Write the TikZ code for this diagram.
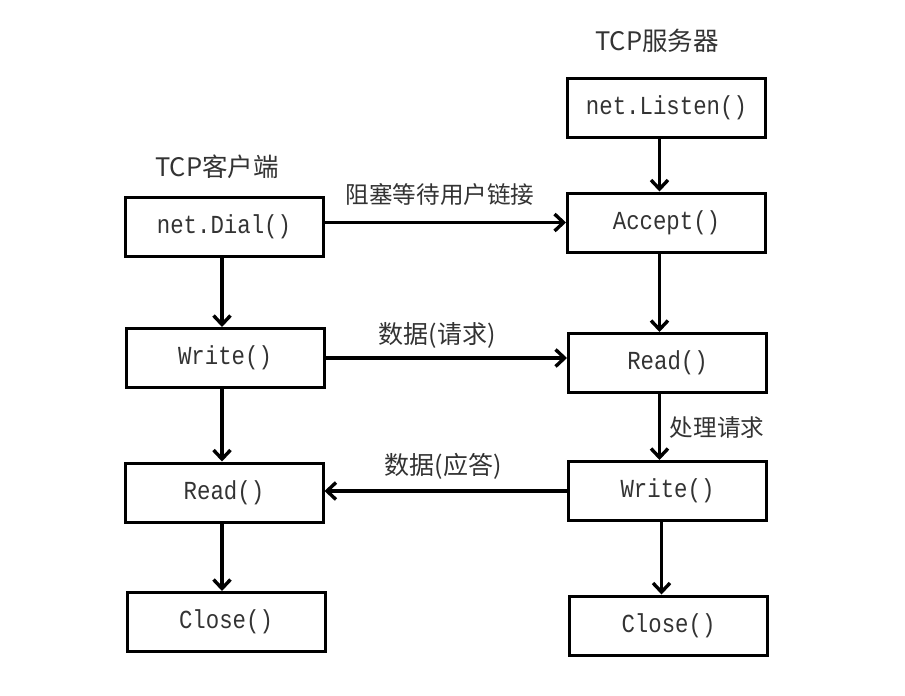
\documentclass[tikz,border=0pt]{standalone}
\usepackage{fontspec}
\newfontfamily\boxfont[FakeStretch=0.86]{Liberation Mono}
\newfontfamily\cjk{Noto Sans CJK SC}
\usetikzlibrary{arrows.meta}
\begin{document}
\begin{tikzpicture}[x=1pt,y=-1pt,
  fn/.style={draw=black,line width=3pt,minimum width=198pt,minimum height=59pt,inner sep=0pt,
    text=black!80,font=\boxfont\fontsize{26}{30}\selectfont},
  lbl/.style={text=black!80,font=\cjk\fontsize{23.6}{28}\selectfont,inner sep=0pt},
  flow/.style={line width=3.4pt,-{Straight Barb[length=9pt,width=17pt,line width=3.4pt]}}]
\useasboundingbox (0,0) rectangle (905,696);
% client column
\node[fn] (dial)   at (224,227)   {net.Dial()};
\node[fn] (cwrite) at (225,358)   {Write()};
\node[fn] (cread)  at (224,492.5) {Read()};
\node[fn] (cclose) at (226,622)   {Close()};
% server column
\node[fn] (listen) at (666.5,107.5) {net.Listen()};
\node[fn] (accept) at (666.5,222.5) {Accept()};
\node[fn] (sread)  at (667.5,363)   {Read()};
\node[fn] (swrite) at (667.5,491)   {Write()};
\node[fn] (sclose) at (668.5,625.5) {Close()};
% titles and labels
\node[lbl,font=\cjk\fontsize{25.5}{30}\selectfont] (tcli) at (217,167) {TCP客户端};
\node[lbl,font=\cjk\fontsize{25.5}{30}\selectfont] (tsrv) at (657,41)  {TCP服务器};
\node[lbl] (l1) at (440,195) {阻塞等待用户链接};
\node[lbl,font=\cjk\fontsize{25}{30}\selectfont] (l2) at (437,335) {数据(请求)};
\node[lbl,font=\cjk\fontsize{25}{30}\selectfont] (l3) at (443,466) {数据(应答)};
\node[lbl] (l4) at (717,428) {处理请求};
% vertical flows
\draw[flow] ([xshift=-2pt]dial.south)   -- ([xshift=-3pt]cwrite.north);
\draw[flow] ([xshift=-3pt]cwrite.south) -- ([xshift=-2pt]cread.north);
\draw[flow] ([xshift=-2pt]cread.south)  -- ([xshift=-4pt]cclose.north);
\draw[flow] ([xshift=-7pt]listen.south) -- ([xshift=-7pt]accept.north);
\draw[flow] ([xshift=-7pt]accept.south) -- ([xshift=-8pt]sread.north);
\draw[flow] ([xshift=-8pt]sread.south)  -- ([xshift=-8pt]swrite.north);
\draw[flow] ([xshift=-6pt]swrite.south) -- ([xshift=-7pt]sclose.north);
% horizontal flows
\draw[flow] (dial.east |- accept.west) -- (accept.west);
\draw[flow] (cwrite.east) -- (cwrite.east -| sread.west);
\draw[flow] (swrite.west) -- (swrite.west -| cread.east);
\end{tikzpicture}
\end{document}
